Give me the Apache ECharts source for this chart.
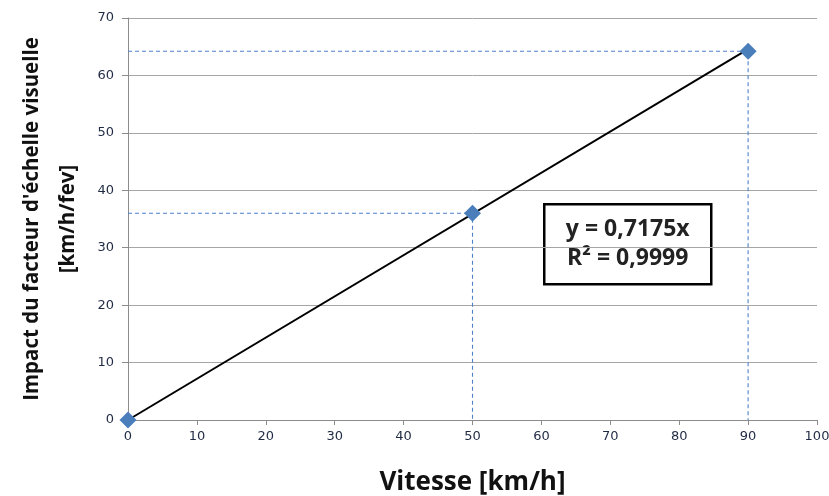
<!DOCTYPE html>
<html>
<head>
<meta charset="utf-8">
<script src="https://cdn.jsdelivr.net/npm/echarts@6/dist/echarts.min.js"></script>
<style>
  html, body { margin: 0; padding: 0; background: #fff; }
  #chart { width: 829px; height: 496px; }
</style>
</head>
<body>
<div id="chart"></div>
<script>
// measured points
var vitesse = [0, 50, 90];
var impact = [0, 36, 64.2];
// trend line y = 0.7175x
var slope = 0.7175;
var trendX = [0, 90];
var eqLines = ['y = 0,7175x', 'R² = 0,9999'];

var pts = vitesse.map(function (v, i) { return [v, impact[i]]; });
var trend = trendX.map(function (v) { return [v, slope * v]; });

// dashed guides from each non-zero point to both axes
var guides = [];
for (var i = 0; i < pts.length; i++) {
    if (pts[i][0] === 0) continue;
    guides.push({
        type: 'line',
        data: [[0, pts[i][1]], [pts[i][0], pts[i][1]], [pts[i][0], 0]],
        symbol: 'none',
        lineStyle: { color: '#4f80c9', width: 1.1, type: [4, 3] },
        silent: true,
        z: 1
    });
}

var chart = echarts.init(document.getElementById('chart'), null, { renderer: 'canvas' });
var labelFont = { fontFamily: 'DejaVu Sans', fontSize: 13, color: '#1f2a44' };
var option = {
    animation: false,
    grid: { left: 128, right: 12, top: 18, bottom: 76, outerBoundsMode: 'none', containLabel: false },
    xAxis: {
        type: 'value', min: 0, max: 100, interval: 10,
        name: 'Vitesse [km/h]', nameLocation: 'middle', nameGap: 50,
        nameTextStyle: { fontFamily: 'Open Sans', fontWeight: 'bold', fontSize: 26, color: '#111' },
        axisLine: { lineStyle: { color: '#8c8c8c', width: 1 } },
        axisTick: { show: true, length: 5, lineStyle: { color: '#8c8c8c' } },
        axisLabel: Object.assign({ margin: 10 }, labelFont),
        splitLine: { show: false }
    },
    yAxis: {
        type: 'value', min: 0, max: 70, interval: 10,
        name: "Impact du facteur d'échelle visuelle\n[km/h/fev]",
        nameLocation: 'middle', nameGap: 42, nameRotate: 90,
        nameTextStyle: { fontFamily: 'Open Sans', fontWeight: 'bold', fontSize: 20.5, lineHeight: 36, color: '#111' },
        axisLine: { show: true, lineStyle: { color: '#8c8c8c', width: 1 } },
        axisTick: { show: true, length: 6, lineStyle: { color: '#8c8c8c' } },
        axisLabel: Object.assign({ margin: 14 }, labelFont),
        splitLine: { show: true, lineStyle: { color: '#a6a6a6', width: 1 } }
    },
    series: guides.concat([
        {
            type: 'line', data: trend, symbol: 'none',
            lineStyle: { color: '#000', width: 2 }, z: 2
        },
        {
            type: 'scatter', data: pts, symbol: 'diamond', symbolSize: 17,
            itemStyle: { color: '#4a7ebb', opacity: 1 }, z: 3
        }
    ]),
    graphic: [{
        type: 'group', left: 543, top: 203,
        children: [
            { type: 'rect', shape: { x: 0, y: 0, width: 167, height: 80 },
              style: { fill: '#fff', stroke: '#000', lineWidth: 2.5 } },
            { type: 'text', x: 83.5, y: 40,
              style: { text: eqLines.join('\n'), align: 'center', verticalAlign: 'middle',
                       fontFamily: 'Open Sans', fontWeight: 'bold', fontSize: 23, lineHeight: 29, fill: '#222' } }
        ]
    }]
};
chart.setOption(option);
</script>
</body>
</html>
